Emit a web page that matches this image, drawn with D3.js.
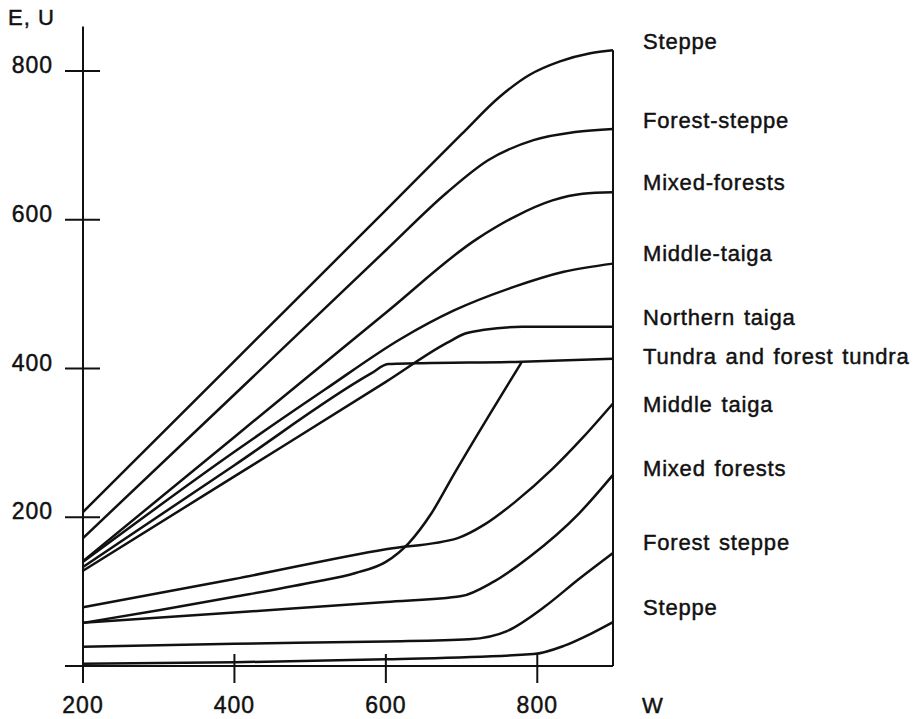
<!DOCTYPE html>
<html>
<head>
<meta charset="utf-8">
<script src="https://cdn.jsdelivr.net/npm/d3@7"></script>
<style>
  body { margin: 0; background: #fff; }
  text { font-family: "Liberation Sans", Arial, sans-serif; fill: #111; stroke: #111; stroke-width: 0.45px; }
</style>
</head>
<body>
<div id="graph_here"></div>
<script>
// tick labels
const xTicks = [200, 400, 600, 800];
const yTicks = [200, 400, 600, 800];

// upper family of curves (E), [W, value]
const steppeE = [[200,207],[400,410],[600,613],[700,715],[750,765],[790,795],[830,813],[870,824],[900,828]];
const forestSteppeE = [[200,172],[400,365],[600,559],[680,636],[735,680],[795,707],[850,718],[900,722]];
const mixedForestsE = [[200,141],[400,308],[600,475],[720,574],[770,604],[820,626],[860,635],[900,637]];
const middleTaigaE = [[200,140],[400,288],[520,372],[620,440],[690,478],[770,510],[835,530],[900,541]];
const northernTaigaE = [[200,128],[400,255],[600,382],[680,434],[705,447],[730,452],[780,456],[900,456]];
const tundraE = [[200,133],[400,270],[580,393],[603,406],[640,407],[780,409],[900,413]];

// lower family of curves (U)
const middleTaigaU = [[200,79],[400,117],[600,157],[695,172],[730,190],[770,220],[820,265],[860,307],[900,353]];
const tundraU = [[200,58],[300,75],[400,93],[500,112],[560,125],[600,140],[630,165],[660,205],[690,258],[779,408]];
const mixedForestsU = [[200,58],[400,72],[600,86],[700,94],[740,112],[790,147],[855,205],[900,257]];
const forestSteppeU = [[200,26],[400,30],[600,33],[710,36],[760,47],[810,80],[855,117],[900,152]];
const steppeU = [[200,3],[400,5],[600,9],[795,16],[835,27],[870,43],[900,59]];

// labels on the right and the value they sit at
const labelNames = ["Steppe","Forest-steppe","Mixed-forests","Middle-taiga","Northern taiga",
                    "Tundra and forest tundra","Middle taiga","Mixed forests","Forest steppe","Steppe"];
const labelAt = [829, 724, 640, 544, 458, 406, 341, 255, 156, 69];

const allSeries = [steppeE, forestSteppeE, mixedForestsE, middleTaigaE, northernTaigaE, tundraE,
                   middleTaigaU, tundraU, mixedForestsU, forestSteppeU, steppeU];

function drawChart(){
    const width = 917;
    const height = 719;

    var svg = d3.select('#graph_here')
        .append('svg')
        .attr('width', width)
        .attr('height', height)
        .style('background-color', 'white');

    const xScale = d3.scaleLinear().domain([200, 900]).range([83, 613]);
    const yScale = d3.scaleLinear().domain([0, 800]).range([666, 71]);

    // axes: vertical at W=200, baseline at 0, frame at W=900
    svg.append('line')
        .attr('x1', xScale(200)).attr('x2', xScale(200))
        .attr('y1', yScale(860)).attr('y2', yScale(0))
        .attr('stroke', '#111').attr('stroke-width', 2);

    svg.append('line')
        .attr('x1', xScale(200) - 18).attr('x2', xScale(900))
        .attr('y1', yScale(0)).attr('y2', yScale(0))
        .attr('stroke', '#111').attr('stroke-width', 2);

    svg.append('line')
        .attr('x1', xScale(900)).attr('x2', xScale(900))
        .attr('y1', yScale(steppeE[steppeE.length - 1][1])).attr('y2', yScale(0))
        .attr('stroke', '#111').attr('stroke-width', 2);

    // cross ticks on y
    svg.selectAll('.ytick')
        .data(yTicks)
        .enter()
        .append('line')
        .attr('x1', xScale(200) - 18).attr('x2', xScale(200) + 17)
        .attr('y1', d => yScale(d)).attr('y2', d => yScale(d))
        .attr('stroke', '#111').attr('stroke-width', 2);

    svg.selectAll('.ylabel')
        .data(yTicks)
        .enter()
        .append('text')
        .attr('x', xScale(200) - 30)
        .attr('y', d => yScale(d) + 2)
        .attr('text-anchor', 'end')
        .style('font-size', '23px')
        .style('letter-spacing', '1px')
        .text(d => d);

    // cross ticks on x
    svg.selectAll('.xtick')
        .data(xTicks)
        .enter()
        .append('line')
        .attr('x1', d => xScale(d)).attr('x2', d => xScale(d))
        .attr('y1', yScale(0) - 12).attr('y2', yScale(0) + 17)
        .attr('stroke', '#111').attr('stroke-width', 2);

    svg.selectAll('.xlabel')
        .data(xTicks)
        .enter()
        .append('text')
        .attr('x', d => xScale(d))
        .attr('y', yScale(0) + 47)
        .attr('text-anchor', 'middle')
        .style('font-size', '23px')
        .style('letter-spacing', '1px')
        .text(d => d);

    // axis titles
    svg.append('text')
        .attr('x', 8).attr('y', 25)
        .style('font-size', '22px')
        .style('letter-spacing', '1px')
        .text('E, U');

    svg.append('text')
        .attr('x', xScale(900) + 29).attr('y', yScale(0) + 47)
        .style('font-size', '22px')
        .text('W');

    // curves
    const line = d3.line()
        .x(d => xScale(d[0]))
        .y(d => yScale(d[1]))
        .curve(d3.curveMonotoneX);

    svg.selectAll('.curve')
        .data(allSeries)
        .enter()
        .append('path')
        .attr('d', d => line(d))
        .attr('fill', 'none')
        .attr('stroke', '#111')
        .attr('stroke-width', 2.5)
        .attr('stroke-linejoin', 'round');

    // labels on the right
    svg.selectAll('.clabel')
        .data(labelNames)
        .enter()
        .append('text')
        .attr('x', xScale(900) + 30)
        .attr('y', (d, i) => yScale(labelAt[i]))
        .style('font-size', '22px')
        .style('letter-spacing', '0.8px')
        .style('word-spacing', '2px')
        .text(d => d);
}

window.addEventListener('load', drawChart);
</script>
</body>
</html>
